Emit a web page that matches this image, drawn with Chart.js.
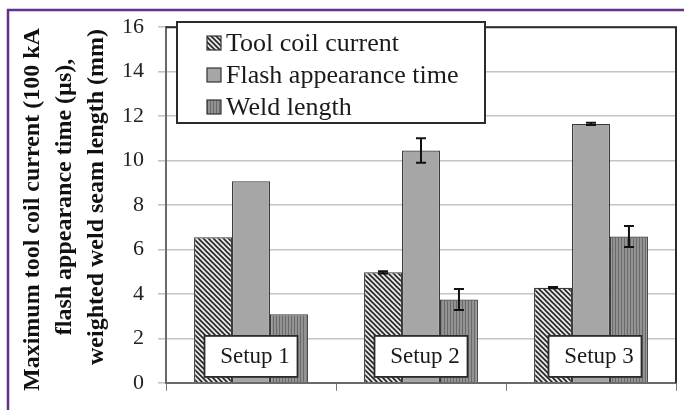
<!DOCTYPE html>
<html>
<head>
<meta charset="utf-8">
<script src="https://cdn.jsdelivr.net/npm/chart.js@4.4.1/dist/chart.umd.min.js"></script>
<style>
html,body{margin:0;padding:0;background:#fff;}
#wrap{width:684px;height:410px;position:relative;}
</style>
</head>
<body>
<div id="wrap"><canvas id="c" width="684" height="410"></canvas></div>
<script>
// ---- data ----
const categories = ['Setup 1', 'Setup 2', 'Setup 3'];
const seriesNames = ['Tool coil current', 'Flash appearance time', 'Weld length'];
const toolCoil = [6.55, 4.97, 4.28];
const flashTime = [9.07, 10.45, 11.65];
const weldLength = [3.08, 3.75, 6.58];
const toolCoilErr = [0, 0.05, 0.03];
const flashTimeErr = [0, 0.55, 0.05];
const weldLengthErr = [0, 0.47, 0.47];
const yTicks = [0, 2, 4, 6, 8, 10, 12, 14, 16];
const yTitleLines = ['Maximum tool coil current (100 kA', 'flash appearance time (µs),', 'weighted weld seam length (mm)'];

const SERIF = '"Liberation Serif", "Times New Roman", serif';

function hatchPattern() {
  const c = document.createElement('canvas'); c.width = 5; c.height = 5;
  const g = c.getContext('2d');
  g.fillStyle = '#e8e8e8'; g.fillRect(0, 0, 5, 5);
  g.strokeStyle = '#262626'; g.lineWidth = 1.6;
  g.beginPath();
  g.moveTo(-1, -1); g.lineTo(6, 6);
  g.moveTo(-1, 4); g.lineTo(1, 6);
  g.moveTo(4, -1); g.lineTo(6, 1);
  g.stroke();
  return g.createPattern(c, 'repeat');
}
function stripePattern() {
  const c = document.createElement('canvas'); c.width = 3; c.height = 3;
  const g = c.getContext('2d');
  g.fillStyle = '#939393'; g.fillRect(0, 0, 3, 3);
  g.fillStyle = '#6a6a6a'; g.fillRect(0, 0, 1, 3);
  return g.createPattern(c, 'repeat');
}
const fills = [hatchPattern(), '#a6a6a6', stripePattern()];
const errs = [toolCoilErr, flashTimeErr, weldLengthErr];

const framePlugin = {
  id: 'frame',
  beforeDraw(chart) {
    const ctx = chart.ctx;
    ctx.save();
    ctx.fillStyle = '#fff';
    ctx.fillRect(0, 0, chart.width, chart.height);
    ctx.strokeStyle = '#5e3389';
    ctx.lineWidth = 2.5;
    ctx.beginPath();
    ctx.moveTo(8, 410); ctx.lineTo(8, 10); ctx.lineTo(684, 10);
    ctx.stroke();
    ctx.restore();
  },
  afterDraw(chart) {
    const ctx = chart.ctx;
    const a = chart.chartArea;
    ctx.save();
    ctx.strokeStyle = '#2b2b2b';
    ctx.lineWidth = 2;
    ctx.beginPath();
    ctx.moveTo(a.left, a.top); ctx.lineTo(a.right, a.top); ctx.lineTo(a.right, a.bottom);
    ctx.stroke();

    // y title
    ctx.fillStyle = '#111';
    ctx.font = 'bold 24px ' + SERIF;
    ctx.textBaseline = 'middle';
    const xs = [33, 65, 97];
    ctx.save();
    ctx.beginPath(); ctx.rect(9, 12, 160, 400); ctx.clip();
    ctx.translate(xs[0], 391); ctx.rotate(-Math.PI / 2);
    ctx.textAlign = 'left';
    ctx.fillText(yTitleLines[0], 0, 0);
    ctx.restore();
    for (let i = 1; i < 3; i++) {
      ctx.save();
      ctx.translate(xs[i], 197); ctx.rotate(-Math.PI / 2);
      ctx.textAlign = 'center';
      ctx.fillText(yTitleLines[i], 0, 0);
      ctx.restore();
    }

    // setup label boxes
    const xs2 = chart.scales.x;
    const ys = chart.scales.y;
    categories.forEach((cat, i) => {
      const cx = xs2.getPixelForValue(i) + (i === 2 ? 4 : 0);
      const w = 93, h = 41;
      const top = ys.getPixelForValue(2.2) + 2;
      ctx.fillStyle = '#fff';
      ctx.fillRect(cx - w / 2, top, w, h);
      ctx.strokeStyle = '#2b2b2b'; ctx.lineWidth = 1.8;
      ctx.strokeRect(cx - w / 2, top, w, h);
      ctx.fillStyle = '#1a1a1a';
      ctx.font = '23px ' + SERIF;
      ctx.textAlign = 'center'; ctx.textBaseline = 'middle';
      ctx.fillText(cat, cx + 4, top + h / 2 + 1);
    });

    // legend
    const lx = 177, ly = 22, lw = 308, lh = 101;
    ctx.fillStyle = '#fff';
    ctx.fillRect(lx, ly, lw, lh);
    ctx.strokeStyle = '#2b2b2b'; ctx.lineWidth = 2;
    ctx.strokeRect(lx, ly, lw, lh);
    const rows = [43, 75, 107];
    chart.data.datasets.forEach((ds, i) => {
      ctx.fillStyle = ds.backgroundColor;
      ctx.fillRect(207, rows[i] - 7, 14, 14);
      ctx.strokeStyle = '#333'; ctx.lineWidth = 1.2;
      ctx.strokeRect(207, rows[i] - 7, 14, 14);
      ctx.fillStyle = '#1a1a1a';
      ctx.font = '26px ' + SERIF;
      ctx.textAlign = 'left'; ctx.textBaseline = 'middle';
      ctx.fillText(ds.label, 226, rows[i] + 1);
    });
    ctx.restore();
  },
  afterDatasetsDraw(chart) {
    const ctx = chart.ctx;
    const ys = chart.scales.y;
    ctx.save();
    ctx.strokeStyle = '#111';
    ctx.lineWidth = 2;
    chart.data.datasets.forEach((ds, di) => {
      const meta = chart.getDatasetMeta(di);
      meta.data.forEach((bar, j) => {
        const e = errs[di][j];
        if (!e) return;
        const v = ds.data[j];
        const y1 = ys.getPixelForValue(v + e), y2 = ys.getPixelForValue(v - e);
        ctx.beginPath();
        ctx.moveTo(bar.x, y1); ctx.lineTo(bar.x, y2);
        ctx.moveTo(bar.x - 5, y1); ctx.lineTo(bar.x + 5, y1);
        ctx.moveTo(bar.x - 5, y2); ctx.lineTo(bar.x + 5, y2);
        ctx.stroke();
      });
    });
    ctx.restore();
  }
};

new Chart(document.getElementById('c'), {
  type: 'bar',
  data: {
    labels: categories,
    datasets: [
      { label: seriesNames[0], data: toolCoil, backgroundColor: fills[0] },
      { label: seriesNames[1], data: flashTime, backgroundColor: fills[1] },
      { label: seriesNames[2], data: weldLength, backgroundColor: fills[2] }
    ].map(d => Object.assign(d, { borderColor: '#3a3a3a', borderWidth: 1.2, borderSkipped: 'bottom',
      categoryPercentage: 0.67, barPercentage: 1.0 }))
  },
  options: {
    responsive: false,
    animation: false,
    devicePixelRatio: 1,
    layout: { padding: { left: 0, right: 8, top: 21, bottom: 0 } },
    plugins: { legend: { display: false }, tooltip: { enabled: false } },
    scales: {
      x: {
        grid: { display: true, drawOnChartArea: false, drawTicks: true, tickLength: 8, color: '#777', offset: true, lineWidth: 1 },
        border: { display: true, color: '#6a6a6a', width: 2 },
        ticks: { display: false },
        afterFit(s) { s.height = 22; }
      },
      y: {
        min: 0, max: 16,
        afterBuildTicks(s) { s.ticks = yTicks.map(v => ({ value: v })); },
        grid: { color: '#c4c4c4', lineWidth: 1.6, tickLength: 8 },
        border: { display: true, color: '#6a6a6a', width: 2 },
        ticks: { font: { family: SERIF, size: 22 }, color: '#222', padding: 14 },
        afterFit(s) { s.width = 166; }
      }
    }
  },
  plugins: [framePlugin]
});
</script>
</body>
</html>
